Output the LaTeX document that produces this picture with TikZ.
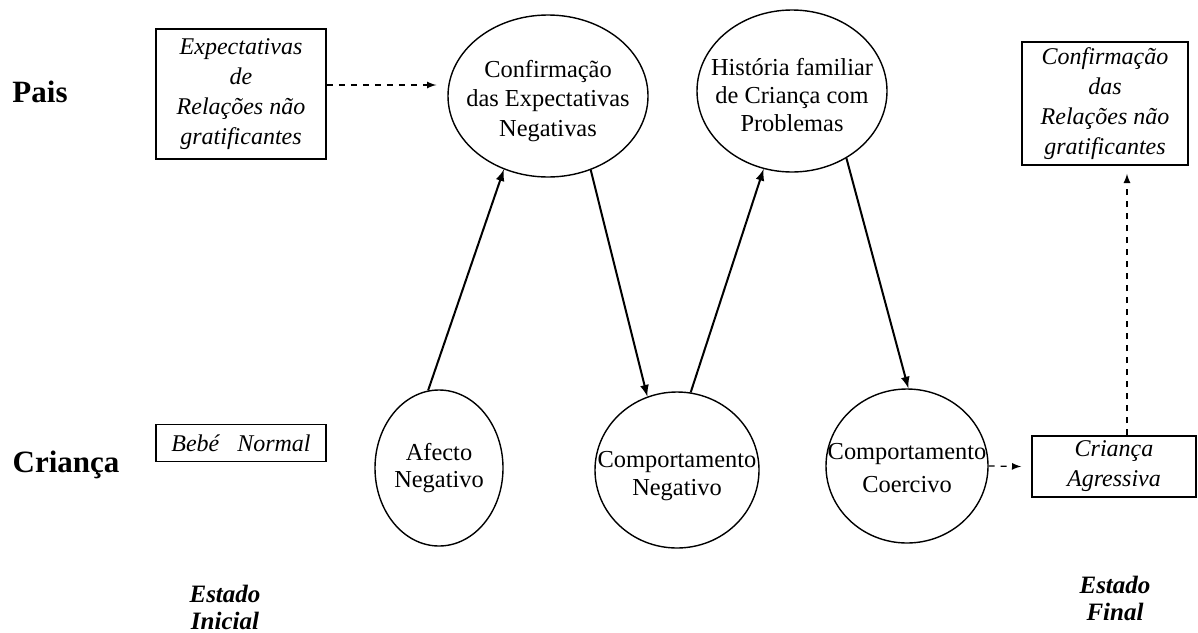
\documentclass[tikz,border=0pt]{standalone}
\usepackage{fontspec}
\setmainfont{Liberation Serif}
\usetikzlibrary{shapes.geometric}

\begin{document}
\begin{tikzpicture}[x=0.5pt,y=-0.5pt,
  caixa/.style={draw,line width=0.8pt,inner sep=0pt,align=center,
    font=\fontsize{12}{15}\selectfont\itshape},
  bola/.style={draw,ellipse,line width=0.7pt,inner sep=0pt},
  texto/.style={align=center,inner sep=0pt,font=\fontsize{12.2}{13.8}\selectfont},
  lado/.style={font=\fontsize{15.5}{18}\selectfont\bfseries},
  estado/.style={align=center,font=\fontsize{12.5}{13.5}\selectfont\bfseries\itshape},
  seta/.style={->,>=latex,line width=1pt},
  tracejada/.style={->,>=latex,dashed,line width=0.6pt}]

             \useasboundingbox (0,0) rectangle (1198,632);

             % lados
             \node[lado] (pais) at (40,92) {Pais};
             \node[lado] (crianca) at (66,465) {Criança};

             % pais
             \node[caixa,minimum width=85pt,minimum height=65pt] (expect) at (241,94)
                  {Expectativas\\de\\Relações não\\gratificantes};
             \node[bola,minimum width=100pt,minimum height=81pt,
                  label={[texto,yshift=-2.5pt]center:{Confirmação\\[1pt]das Expectativas\\[1pt]Negativas}}]
                  (confexp) at (548,96) {};
             \node[bola,minimum width=95pt,minimum height=81pt,
                  label={[texto,yshift=-2pt]center:{História familiar\\de Criança com\\Problemas}}]
                  (historia) at (792,91) {};
             \node[caixa,minimum width=83pt,minimum height=61.5pt] (confrel) at (1105,103.5)
                  {Confirmação\\das\\Relações não\\gratificantes};

             % criança
             \node[caixa,minimum width=85pt,minimum height=18.5pt] (bebe) at (241,443)
                  {Bebé~~~Normal};
             \node[bola,minimum width=64pt,minimum height=78pt,
                  label={[texto]center:{Afecto\\Negativo}}]
                  (afecto) at (439,468) {};
             \node[bola,minimum width=82pt,minimum height=78pt,
                  label={[texto,yshift=-3pt]center:{Comportamento\\Negativo}}]
                  (compneg) at (677,470) {};
             \node[bola,minimum width=81pt,minimum height=77pt,
                  label={[texto,yshift=-1pt]center:{Comportamento\\[3pt]Coercivo}}]
                  (coercivo) at (907,466) {};
             \node[caixa,minimum width=82pt,minimum height=30.5pt] (agressiva) at (1114,466.5)
                  {Criança\\Agressiva};

             % estados
             \node[estado] (inicial) at (225,607) {Estado\\Inicial};
             \node[estado] (final) at (1115,598) {Estado\\Final};

             % setas
             \draw[tracejada] ([yshift=4.5pt]expect.east) -- ([xshift=-5.5pt,yshift=5.5pt]confexp.west);
             \draw[seta] (afecto.98) -- (confexp.239);
             \draw[seta] (confexp.300) -- (compneg.112);
             \draw[seta] (compneg.80) -- (historia.250);
             \draw[seta] (historia.309) -- (coercivo.89);
             \draw[tracejada] (coercivo.east) -- ([xshift=-5pt]agressiva.west);
             \draw[tracejada] ([xshift=6.5pt]agressiva.north) -- ([xshift=11pt,yshift=-4pt]confrel.south);

\end{tikzpicture}
\end{document}
